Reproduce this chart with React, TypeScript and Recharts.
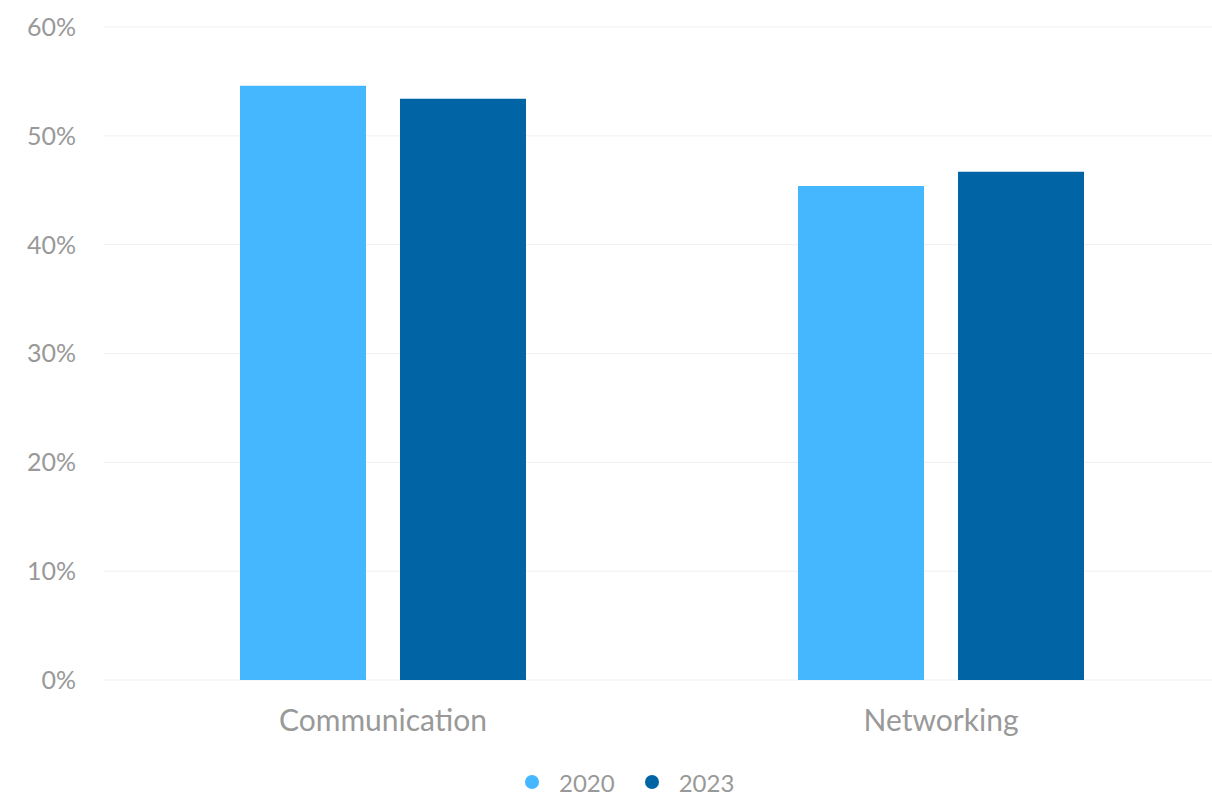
import React from "react";
import { BarChart, Bar, XAxis, YAxis, CartesianGrid, Legend } from "recharts";

const categories = ["Communication", "Networking"];
const series2020 = [54.6, 45.4];
const series2023 = [53.4, 46.7];
const yTicks = [0, 10, 20, 30, 40, 50, 60];
const seriesNames = ["2020", "2023"];
const colors = ["#45b7ff", "#0064a5"];

const data = categories.map((c, i) => ({
  name: c,
  s2020: series2020[i],
  s2023: series2023[i],
}));

const FONT = "Lato, 'Open Sans', sans-serif";

const LegendContent = () => (
  <div style={{ display: "flex", justifyContent: "flex-start", alignItems: "center", paddingLeft: 525, fontFamily: FONT, fontSize: 24, color: "#999", height: 30 }}>
    {seriesNames.map((n, i) => (
      <div key={n} style={{ display: "flex", alignItems: "center", marginRight: i === 0 ? 30 : 0 }}>
        <span style={{ display: "inline-block", width: 14, height: 14, borderRadius: 7, background: colors[i], marginRight: 20 }} />
        <span>{n}</span>
      </div>
    ))}
  </div>
);

export default function App() {
  return (
    <div style={{ position: "absolute", left: 0, top: 0, width: 1212, height: 798, overflow: "hidden", background: "#fff" }}>
      <BarChart
        width={1220}
        height={798}
        data={data}
        margin={{ top: 27, right: 0, left: 0, bottom: 18 }}
        barSize={126}
        barGap={34}
      >
        <CartesianGrid vertical={false} stroke="#efefef" />
        <XAxis
          dataKey="name"
          axisLine={false}
          tickLine={false}
          tickSize={0}
          tickMargin={30}
          height={70}
          tick={{ fill: "#999", fontSize: 30, fontFamily: FONT }}
        />
        <YAxis
          domain={[0, 60]}
          ticks={yTicks}
          width={104}
          axisLine={false}
          tickLine={false}
          tickSize={0}
          tickMargin={28}
          tickFormatter={(v) => `${v}%`}
          tick={{ fill: "#999", fontSize: 25, fontFamily: FONT }}
        />
        <Legend content={<LegendContent />} wrapperStyle={{ left: 0, width: 1212, top: 767, height: 30 }} />
        <Bar dataKey="s2020" name={seriesNames[0]} fill={colors[0]} isAnimationActive={false} />
        <Bar dataKey="s2023" name={seriesNames[1]} fill={colors[1]} isAnimationActive={false} />
      </BarChart>
    </div>
  );
}
